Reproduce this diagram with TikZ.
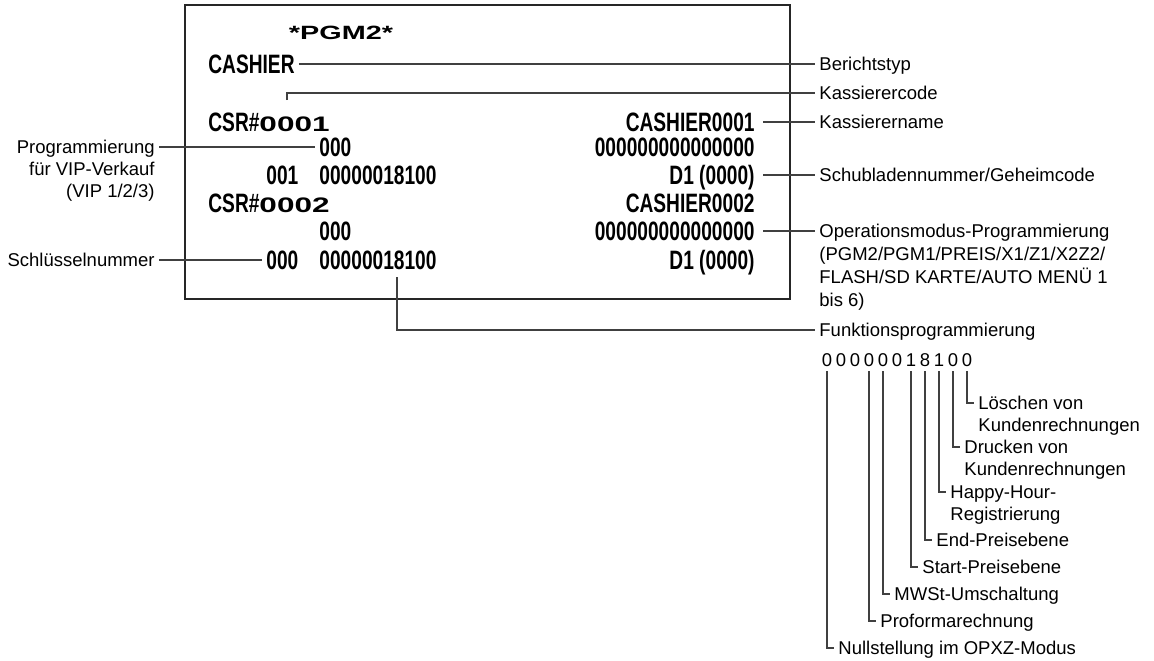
\documentclass[tikz,border=0pt]{standalone}
\usepackage{fontspec}
\setmainfont{Liberation Sans}
\newfontfamily\slipfont[UprightFont={* Bold},FakeStretch=0.72]{Liberation Sans}
\newfontfamily\widefont[UprightFont={* Bold},FakeStretch=1.5]{Liberation Sans}
\usepackage{tikz}

\begin{document}
\begin{tikzpicture}[x=0.5pt, y=-0.5pt,
        lbl/.style={font=\fontsize{9.25}{11}\selectfont, inner xsep=2pt, inner ysep=0pt, text height=6.6pt, text depth=0pt},
        slip/.style={font=\slipfont\fontsize{13.3}{14}\selectfont, inner xsep=2pt, inner ysep=0pt, text height=9.5pt, text depth=0pt},
        digit/.style={lbl, inner xsep=0pt, inner ysep=2pt},
        lead/.style={black!75, line width=0.55pt}]
        \useasboundingbox (0,0) rectangle (1154,660);
        % receipt
        \draw[black!85, line width=0.75pt] (185,5) rectangle (790,299);
        \node[font=\widefont\fontsize{9.6}{10}\selectfont, inner sep=0pt] (title) at (341,33) {*PGM2*};
        \node[slip, anchor=west] (rtype) at (204,64) {CASHIER};
        \node[slip, anchor=west] (csr1) at (204,122) {CSR\#{\widefont\fontsize{10.5}{12}\selectfont 0001}};
        \node[slip, anchor=west] (vip1) at (315,147) {000};
        \node[slip, anchor=west] (key1) at (262,175) {001};
        \node[slip, anchor=west] (func1) at (315,175) {00000018100};
        \node[slip, anchor=west] (csr2) at (204,203) {CSR\#{\widefont\fontsize{10.5}{12}\selectfont 0002}};
        \node[slip, anchor=west] (vip2) at (315,231) {000};
        \node[slip, anchor=west] (key2) at (262,260) {000};
        \node[slip, anchor=west] (func2) at (315,260) {00000018100};
        \node[slip, anchor=east] (name1) at (759,122) {CASHIER0001};
        \node[slip, anchor=east] (mode1) at (759,147) {000000000000000};
        \node[slip, anchor=east] (drawer1) at (759,175) {D1 (0000)};
        \node[slip, anchor=east] (name2) at (759,203) {CASHIER0002};
        \node[slip, anchor=east] (mode2) at (759,231) {000000000000000};
        \node[slip, anchor=east] (drawer2) at (759,260) {D1 (0000)};
        % labels
        \node[lbl, anchor=west] (lrtype) at (815,64) {Berichtstyp};
        \node[lbl, anchor=west] (lcode) at (815,93) {Kassierercode};
        \node[lbl, anchor=west] (lname) at (815,122) {Kassierername};
        \node[lbl, anchor=west] (ldrawer) at (815,175) {Schubladennummer/Geheimcode};
        \node[lbl, anchor=west] (lmode) at (815,231) {Operationsmodus-Programmierung};
        \node[lbl, anchor=west] (lmodeb) at (815,254) {(PGM2/PGM1/PREIS/X1/Z1/X2Z2/};
        \node[lbl, anchor=west] (lmodec) at (815,277) {FLASH/SD KARTE/AUTO MENÜ 1};
        \node[lbl, anchor=west] (lmoded) at (815,300) {bis 6)};
        \node[lbl, anchor=west] (lfunc) at (815,330) {Funktionsprogrammierung};
        \node[lbl, anchor=east] (lvip) at (159,147) {Programmierung};
        \node[lbl, anchor=east] (lvipb) at (159,169) {für VIP-Verkauf};
        \node[lbl, anchor=east] (lvipc) at (159,191) {(VIP 1/2/3)};
        \node[lbl, anchor=east] (lkey) at (159,260) {Schlüsselnummer};
        \coordinate (codetick) at (287,100);
        \coordinate (functick) at (397,277);
        \draw[lead] (rtype.east) -- (lrtype.west);
        \draw[lead] (codetick) |- (lcode.west);
        \draw[lead, shorten <=2pt] (name1.east) -- (lname.west);
        \draw[lead, shorten <=2pt] (drawer1.east) -- (ldrawer.west);
        \draw[lead, shorten <=2pt] (mode2.east) -- (lmode.west);
        \draw[lead] (lvip.east) -- (vip1.west);
        \draw[lead] (lkey.east) -- (key2.west);
        \draw[lead] (functick) |- (lfunc.west);
        % function bits
        \foreach \d [count=\i from 0] in {0,0,0,0,0,0,1,8,1,0,0}
            \node[digit] (d\i) at ({827+14*\i},360) {\d};
        \node[lbl, anchor=west] (bclear) at (974,403) {Löschen von};
        \node[lbl, anchor=west] (bclearb) at (974,425) {Kundenrechnungen};
        \node[lbl, anchor=west] (bprint) at (960,447) {Drucken von};
        \node[lbl, anchor=west] (bprintb) at (960,469) {Kundenrechnungen};
        \node[lbl, anchor=west] (bhappy) at (946,492) {Happy-Hour-};
        \node[lbl, anchor=west] (bhappyb) at (946,514) {Registrierung};
        \node[lbl, anchor=west] (bend) at (932,540) {End-Preisebene};
        \node[lbl, anchor=west] (bstart) at (918,567) {Start-Preisebene};
        \node[lbl, anchor=west] (bvat) at (890,594) {MWSt-Umschaltung};
        \node[lbl, anchor=west] (bproforma) at (876,621) {Proformarechnung};
        \node[lbl, anchor=west] (breset) at (834,648) {Nullstellung im OPXZ-Modus};
        \draw[lead] (d10.south) |- (bclear.west);
        \draw[lead] (d9.south) |- (bprint.west);
        \draw[lead] (d8.south) |- (bhappy.west);
        \draw[lead] (d7.south) |- (bend.west);
        \draw[lead] (d6.south) |- (bstart.west);
        \draw[lead] (d4.south) |- (bvat.west);
        \draw[lead] (d3.south) |- (bproforma.west);
        \draw[lead] (d0.south) |- (breset.west);
    \end{tikzpicture}
\end{document}
